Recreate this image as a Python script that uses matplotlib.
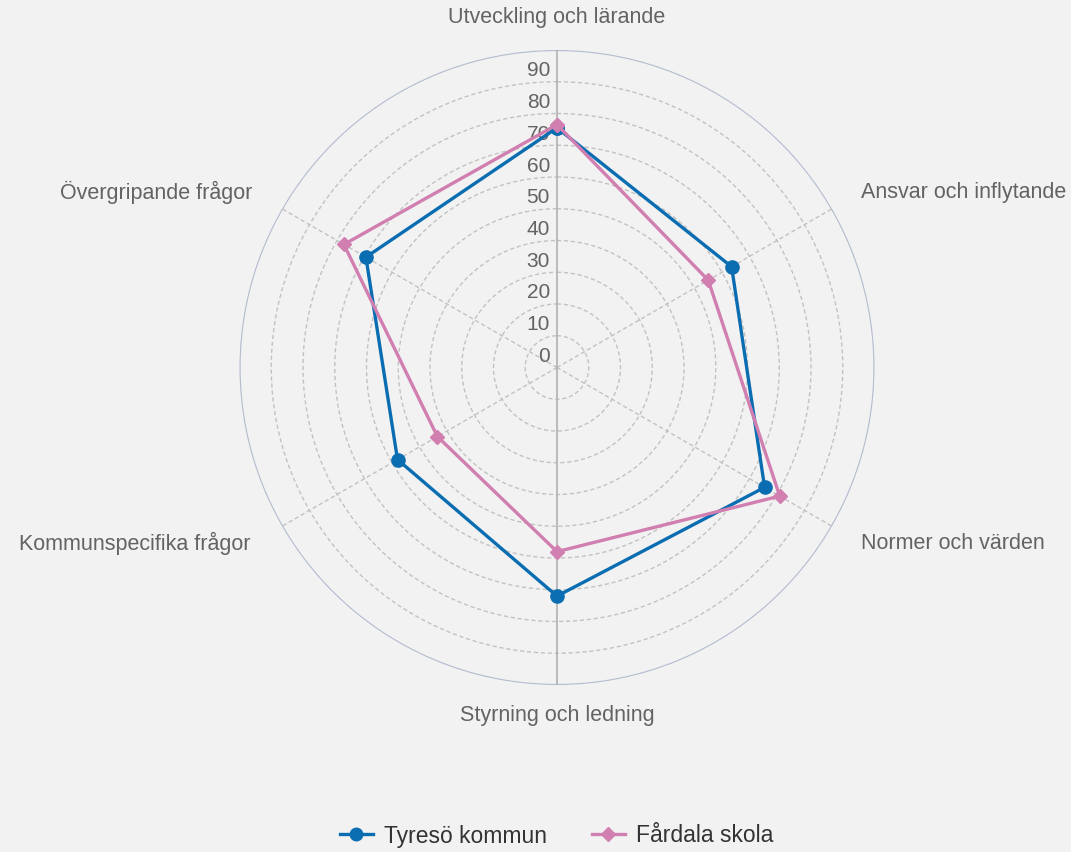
import numpy as np
import matplotlib
matplotlib.use("Agg")
import matplotlib.pyplot as plt
from matplotlib.lines import Line2D

categories = ["Utveckling och lärande", "Ansvar och inflytande", "Normer och värden",
              "Styrning och ledning", "Kommunspecifika frågor", "Övergripande frågor"]
tyreso = [75.5, 63.5, 75.5, 72, 58, 69.5]
fardala = [76.5, 55, 81, 58, 43.5, 77.5]
series_names = ["Tyresö kommun", "Fårdala skola"]
tick_values = [0, 10, 20, 30, 40, 50, 60, 70, 80, 90]

BG = "#f2f2f2"
BLUE = "#0b6db1"
PINK = "#d07fb0"
TXT = "#636363"
FONT = "Liberation Sans"

W, H = 1071, 852
fig = plt.figure(figsize=(W / 100, H / 100), dpi=100, facecolor=BG)
cx, cy, R = 557, 367.5, 317.5
ax = fig.add_axes([(cx - R) / W, (H - cy - R) / H, 2 * R / W, 2 * R / H], projection="polar")
ax.set_facecolor(BG)
ax.set_theta_offset(np.pi / 2)
ax.set_theta_direction(-1)
ax.set_ylim(0, 100)
ax.grid(False)
ax.set_xticks([])
ax.set_yticks([])
ax.spines["polar"].set_visible(False)

n = len(categories)
angles = np.arange(n) * 2 * np.pi / n
full = np.linspace(0, 2 * np.pi, 400)

# circular grid
for r in range(10, 100, 10):
    ax.plot(full, np.full_like(full, r), color="#c2c2c2", lw=1.0, ls=(0, (3, 2)), zorder=1)
ax.plot(full, np.full_like(full, 100), color="#b3bbcf", lw=1.6, zorder=1)

# spokes
for a in angles:
    if np.isclose(a, 0) or np.isclose(a, np.pi):
        ax.plot([a, a], [0, 100], color="#b0b0b0", lw=1.2, zorder=2)
    else:
        ax.plot([a, a], [0, 100], color="#c2c2c2", lw=1.0, ls=(0, (3, 2)), zorder=1)

# tick labels
for v in tick_values:
    ax.annotate(str(v), xy=(0, v), xytext=(-7, 11), textcoords="offset pixels",
                ha="right", va="center", fontsize=15, color=TXT, family=FONT, zorder=3)

# category labels
offsets = [((0, 32), "center"), ((29, 16), "left"), ((29, -17), "left"),
           ((0, -31), "center"), ((-32, -17), "right"), ((-30, 16), "right")]
for a, lab, (off, ha) in zip(angles, categories, offsets):
    ax.annotate(lab, xy=(a, 100), xytext=off, textcoords="offset pixels",
                ha=ha, va="center", fontsize=15.5, color=TXT, family=FONT,
                annotation_clip=False)

th = np.append(angles, angles[0])
ax.plot(th, np.append(tyreso, tyreso[0]), color=BLUE, lw=2.4, marker="o", ms=9.5, zorder=5)
ax.plot(th, np.append(fardala, fardala[0]), color=PINK, lw=2.4, marker="D", ms=7.5, zorder=6)

handles = [Line2D([], [], color=BLUE, lw=2.4, marker="o", ms=9),
           Line2D([], [], color=PINK, lw=2.4, marker="D", ms=7)]
leg = fig.legend(handles, series_names, loc="center", bbox_to_anchor=(556.5 / W, 1 - 836 / H),
                 ncol=2, frameon=False, handlelength=1.45, handletextpad=0.48,
                 columnspacing=1.95, borderpad=0, borderaxespad=0,
                 prop={"family": FONT, "size": 16.5}, labelcolor="#333333")

fig.savefig("out.png", dpi=100, facecolor=BG)
